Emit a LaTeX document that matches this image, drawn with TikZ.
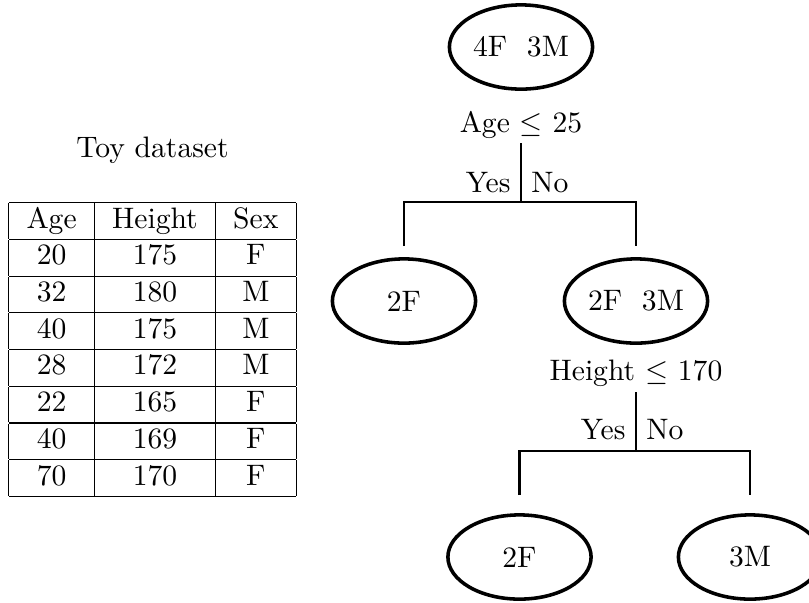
\documentclass[tikz,border=0pt]{standalone}
\usepackage{tikz}
\usetikzlibrary{calc,shapes.geometric}
\tikzset{
	count/.style={ellipse, draw, very thick, minimum width=1.7cm, minimum height=1cm, inner sep=0pt},
	branch/.style={thick}
}

\begin{document}
\begin{tikzpicture}[x=0.3378pt, y=-0.3378pt]
			%%%%% START %%%%%
			\useasboundingbox (0, 0) rectangle (809, 602);
			
			\node[anchor=base] (title) at (152.5, 157) {Toy dataset};
			\node[inner sep=0pt] (data) at (152.5, 349.5) {%
				\begin{tabular}{|c|c|c|}
					\hline
					Age & Height & Sex \\ \hline
					20 & 175 & F \\ \hline
					32 & 180 & M \\ \hline
					40 & 175 & M \\ \hline
					28 & 172 & M \\ \hline
					22 & 165 & F \\ \hline
					40 & 169 & F \\ \hline
					70 & 170 & F \\ \hline
				\end{tabular}};
			
			\node[count] (root) at (521, 47) {4F\ \ 3M};
			\node[anchor=base] (agetest) at (521, 132) {Age $\leq$ 25};
			\coordinate (agetop) at (521, 143);
			\coordinate (agesplit) at (521, 202);
			\node[anchor=base east] (ageyes) at (521, 192) {Yes};
			\node[anchor=base west] (ageno) at (521, 192) {No};
			
			\node[count] (young) at (404, 301) {2F};
			\node[count] (old) at (636, 301) {2F\ \ 3M};
			
			\draw[branch] (agetop) -- (agesplit);
			\draw[branch] ($(young.north)+(0, -11)$) |- (agesplit) -| ($(old.north)+(0, -11)$);
			
			\node[anchor=base] (heighttest) at (636, 380) {Height $\leq$ 170};
			\coordinate (heighttop) at (636, 392);
			\coordinate (heightsplit) at (636, 451);
			\node[anchor=base east] (heightyes) at (636, 439) {Yes};
			\node[anchor=base west] (heightno) at (636, 439) {No};
			
			\node[count] (short) at (519.5, 557) {2F};
			\node[count] (tall) at (750, 557) {3M};
			
			\draw[branch] (heighttop) -- (heightsplit);
			\draw[branch] ($(short.north)+(0, -18)$) |- (heightsplit) -| ($(tall.north)+(0, -18)$);
			
			%%%%% END %%%%%
\end{tikzpicture}
\end{document}
